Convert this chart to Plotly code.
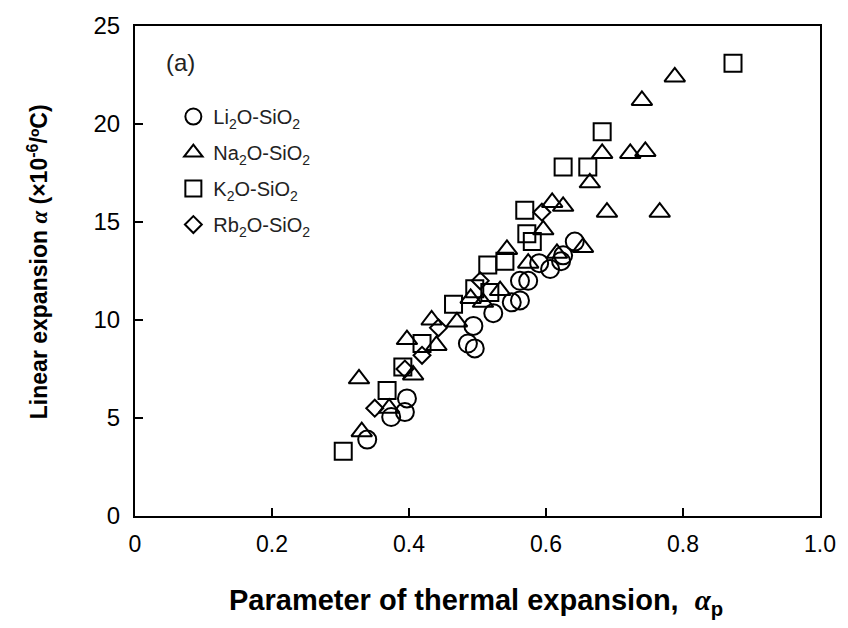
import plotly.graph_objects as go

# ---- data ----
li_x = [0.339, 0.374, 0.394, 0.397, 0.486, 0.496, 0.494, 0.523, 0.550, 0.562, 0.562, 0.574, 0.590, 0.606, 0.622, 0.625, 0.642]
li_y = [3.9, 5.05, 5.3, 6.0, 8.8, 8.55, 9.7, 10.35, 10.9, 11.0, 12.0, 12.0, 12.9, 12.6, 13.0, 13.3, 14.0]

na_x = [0.327, 0.331, 0.371, 0.397, 0.406, 0.433, 0.440, 0.470, 0.490, 0.508, 0.533, 0.543, 0.574, 0.596, 0.609, 0.625, 0.616, 0.654, 0.664, 0.682, 0.689, 0.723, 0.745, 0.740, 0.788, 0.766]
na_y = [7.0, 4.3, 5.5, 9.0, 7.2, 10.0, 8.7, 9.9, 11.1, 10.9, 11.5, 13.6, 12.9, 14.6, 16.0, 15.8, 13.4, 13.7, 17.0, 18.5, 15.5, 18.5, 18.6, 21.2, 22.4, 15.5]

k_x = [0.304, 0.368, 0.391, 0.419, 0.465, 0.496, 0.518, 0.515, 0.540, 0.569, 0.572, 0.580, 0.625, 0.661, 0.682, 0.873]
k_y = [3.3, 6.4, 7.6, 8.8, 10.8, 11.6, 11.4, 12.8, 13.0, 15.6, 14.4, 14.0, 17.8, 17.8, 19.6, 23.1]

rb_x = [0.350, 0.394, 0.419, 0.443, 0.504, 0.594]
rb_y = [5.5, 7.5, 8.2, 9.6, 12.0, 15.5]

series = [
    ("Li<sub>2</sub>O-SiO<sub>2</sub>", li_x, li_y, "circle", 18),
    ("Na<sub>2</sub>O-SiO<sub>2</sub>", na_x, na_y, "triangle-up", 18),
    ("K<sub>2</sub>O-SiO<sub>2</sub>", k_x, k_y, "square", 17),
    ("Rb<sub>2</sub>O-SiO<sub>2</sub>", rb_x, rb_y, "diamond", 13),
]

x_ticks = [0, 0.2, 0.4, 0.6, 0.8, 1.0]
x_ticklabels = ["0", "0.2", "0.4", "0.6", "0.8", "1.0"]
y_ticks = [0, 5, 10, 15, 20, 25]

FONT = "Liberation Sans, Arial, sans-serif"

fig = go.Figure()
for name, xs, ys, sym, sz in series:
    fig.add_trace(go.Scatter(
        x=xs, y=ys, mode="markers", name=name, legendgroup=name,
        marker=dict(symbol=sym, size=sz, color="rgba(255,255,255,0)",
                    line=dict(color="black", width=2)),
    ))

fig.update_layout(
    width=848, height=628,
    margin=dict(l=135, r=28, t=18, b=112),
    paper_bgcolor="white", plot_bgcolor="white",
    font=dict(family=FONT, color="black", size=20),
    showlegend=True,
    legend=dict(x=0.056, y=0.855, xanchor="left", yanchor="top",
                bgcolor="rgba(0,0,0,0)", font=dict(size=20, color="#222"),
                tracegroupgap=7, traceorder="grouped"),
    xaxis=dict(range=[0, 1.0], tickvals=x_ticks, ticktext=x_ticklabels,
               ticks="inside", ticklen=8, tickwidth=2, tickcolor="black",
               showline=True, linewidth=2, linecolor="black", mirror=True,
               showgrid=False, zeroline=False,
               tickfont=dict(size=23),
               ticklabelstandoff=6),
    yaxis=dict(range=[0, 25], tickvals=y_ticks,
               ticks="inside", ticklen=8, tickwidth=2, tickcolor="black",
               showline=True, linewidth=2, linecolor="black", mirror=True,
               showgrid=False, zeroline=False,
               tickfont=dict(size=24), ticklabelstandoff=8),
    annotations=[
        dict(text="<b>Linear expansion <span style=\"font-family:'Liberation Serif'\"><i>α</i></span> (×10<sup>-6</sup>/ºC)</b>",
             xref="paper", yref="paper", x=-0.1416, y=0.518,
             xanchor="center", yanchor="middle", textangle=-90,
             showarrow=False, font=dict(size=23, color="black")),
        dict(text="<b>Parameter of thermal expansion,  <span style=\"font-family:'Liberation Serif'\"><i>α</i></span><sub>p</sub></b>",
             xref="paper", yref="paper", x=0.498, y=-0.175,
             xanchor="center", yanchor="middle",
             showarrow=False, font=dict(size=29, color="black")),
        dict(text="(a)", xref="paper", yref="paper", x=0.067, y=0.926,
             xanchor="center", yanchor="middle", showarrow=False,
             font=dict(size=24, color="#222")),
    ],
)

fig.write_html("out.html")
